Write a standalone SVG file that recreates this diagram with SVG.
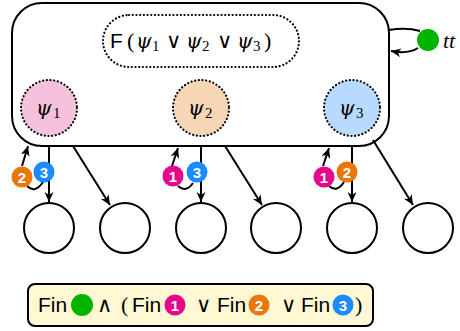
<svg xmlns="http://www.w3.org/2000/svg" width="460" height="331" viewBox="0 0 460 331">
<style>
.ln{fill:none;stroke:#000;stroke-width:2}
.dot{stroke:#000;stroke-width:2.2;stroke-dasharray:0.1 3.6;stroke-linecap:round}
.child{fill:#fff;stroke:#000;stroke-width:2}
.bt{font-family:"Liberation Sans",sans-serif;font-weight:bold;font-size:15px;fill:#fff;text-anchor:middle}
.op{font-family:"Noto Sans","Inter","Roboto","Open Sans","DejaVu Sans",sans-serif;font-size:21px}
</style>
<defs>
<marker id="ah" markerUnits="userSpaceOnUse" markerWidth="12" markerHeight="12" viewBox="0 0 12 12" refX="10" refY="6" orient="auto">
<path d="M0,1.5 L10,6 L0,10.5 L3,6 Z" fill="#000"/>
</marker>
</defs>

<g id="main">
<rect x="12" y="3" width="377" height="143" rx="30" fill="#fff" stroke="#000" stroke-width="2"/>
</g>
<g id="formula">
<rect x="103" y="15" width="196" height="52" rx="26" fill="#fff" class="dot"/>
<text y="48" font-size="21"><tspan x="110" font-family="Liberation Sans, sans-serif">F</tspan><tspan x="127" font-family="Liberation Serif, serif" font-size="22">(</tspan><tspan x="136" font-family="DejaVu Serif, serif" font-style="italic" font-size="20">ψ</tspan><tspan x="152" font-family="Liberation Serif, serif" font-size="15" dy="3">1</tspan><tspan x="166" class="op" dy="-3">∨</tspan><tspan x="186" font-family="DejaVu Serif, serif" font-style="italic" font-size="20">ψ</tspan><tspan x="202" font-family="Liberation Serif, serif" font-size="15" dy="3">2</tspan><tspan x="217" class="op" dy="-3">∨</tspan><tspan x="237" font-family="DejaVu Serif, serif" font-style="italic" font-size="20">ψ</tspan><tspan x="253" font-family="Liberation Serif, serif" font-size="15" dy="3">3</tspan><tspan x="264" font-family="Liberation Serif, serif" font-size="22" dy="-3">)</tspan></text>
</g>
<g id="psi1">
<circle cx="49" cy="108" r="28" fill="#f6c1da" class="dot"/>
<text y="115"><tspan x="36" font-family="DejaVu Serif, serif" font-style="italic" font-size="20">ψ</tspan><tspan x="53" font-family="Liberation Serif, serif" font-size="15" dy="3">1</tspan></text>
</g>
<g id="psi2">
<circle cx="201" cy="108" r="28" fill="#f7d6b5" class="dot"/>
<text y="115"><tspan x="188" font-family="DejaVu Serif, serif" font-style="italic" font-size="20">ψ</tspan><tspan x="205" font-family="Liberation Serif, serif" font-size="15" dy="3">2</tspan></text>
</g>
<g id="psi3">
<circle cx="352" cy="108" r="28" fill="#b8daff" class="dot"/>
<text y="115"><tspan x="339" font-family="DejaVu Serif, serif" font-style="italic" font-size="20">ψ</tspan><tspan x="356" font-family="Liberation Serif, serif" font-size="15" dy="3">3</tspan></text>
</g>

<g id="connectors">
<path class="ln" d="M389,30 C400,28 410,28 420,31"/>
<path class="ln" d="M418,48 C410,53 401,53 391,51" marker-end="url(#ah)"/>
<path class="ln" d="M49,146 L49,202" marker-end="url(#ah)"/>
<path class="ln" d="M73,146 L110,205" marker-end="url(#ah)"/>
<path class="ln" d="M201,146 L201,202" marker-end="url(#ah)"/>
<path class="ln" d="M225,146 L262,205" marker-end="url(#ah)"/>
<path class="ln" d="M352,146 L352,202" marker-end="url(#ah)"/>
<path class="ln" d="M373,140 L413,205" marker-end="url(#ah)"/>
<path class="ln" d="M22,166 L28,146" marker-end="url(#ah)"/>
<path class="ln" d="M172,166 L178,148" marker-end="url(#ah)"/>
<path class="ln" d="M323,166 L329,148" marker-end="url(#ah)"/>
<path class="ln" d="M27,186 Q35,194 43,182"/>
<path class="ln" d="M178,186 Q186,193 193,183"/>
<path class="ln" d="M329,186 Q337,193 344,182"/>
</g>

<g id="acc">
<circle cx="428" cy="40" r="11" fill="#00b400"/>
<text x="443" y="48" font-family="Liberation Serif, serif" font-style="italic" font-size="22">tt</text>
</g>

<g id="badges">
<circle cx="22" cy="177" r="10.5" fill="#e8780c"/><text x="22" y="182.5" class="bt">2</text>
<circle cx="44" cy="172" r="10.5" fill="#1a8cff"/><text x="44" y="177.5" class="bt">3</text>
<circle cx="173" cy="176" r="10.5" fill="#e6068c"/><text x="173" y="181.5" class="bt">1</text>
<circle cx="197" cy="172" r="10.5" fill="#1a8cff"/><text x="197" y="177.5" class="bt">3</text>
<circle cx="324" cy="177" r="10.5" fill="#e6068c"/><text x="324" y="182.5" class="bt">1</text>
<circle cx="347" cy="172" r="10.5" fill="#e8780c"/><text x="347" y="177.5" class="bt">2</text>
</g>

<g id="c1"><circle cx="49" cy="228" r="25" class="child"/></g>
<g id="c2"><circle cx="125" cy="228" r="25" class="child"/></g>
<g id="c3"><circle cx="201" cy="228" r="25" class="child"/></g>
<g id="c4"><circle cx="276" cy="228" r="25" class="child"/></g>
<g id="c5"><circle cx="352" cy="228" r="25" class="child"/></g>
<g id="c6"><circle cx="428" cy="228" r="25" class="child"/></g>

<g id="condition" font-size="21">
<rect x="28" y="284" width="345" height="42" rx="7" fill="#fff8d2" stroke="#000" stroke-width="2"/>
<text x="38" y="312" font-family="Liberation Sans, sans-serif">Fin</text>
<circle cx="82" cy="305" r="11" fill="#00b400"/>
<text x="97" y="312" class="op">∧</text>
<text x="121" y="312" font-family="Liberation Serif, serif" font-size="22">(</text>
<text x="132" y="312" font-family="Liberation Sans, sans-serif">Fin</text>
<circle cx="175" cy="305" r="10.5" fill="#e6068c"/><text x="175" y="310.5" class="bt">1</text>
<text x="196" y="312" class="op">∨</text>
<text x="217" y="312" font-family="Liberation Sans, sans-serif">Fin</text>
<circle cx="259" cy="305" r="10.5" fill="#e8780c"/><text x="259" y="310.5" class="bt">2</text>
<text x="281" y="312" class="op">∨</text>
<text x="301" y="312" font-family="Liberation Sans, sans-serif">Fin</text>
<circle cx="343" cy="305" r="10.5" fill="#1a8cff"/><text x="343" y="310.5" class="bt">3</text>
<text x="355" y="312" font-family="Liberation Serif, serif" font-size="22">)</text>
</g>
</svg>
